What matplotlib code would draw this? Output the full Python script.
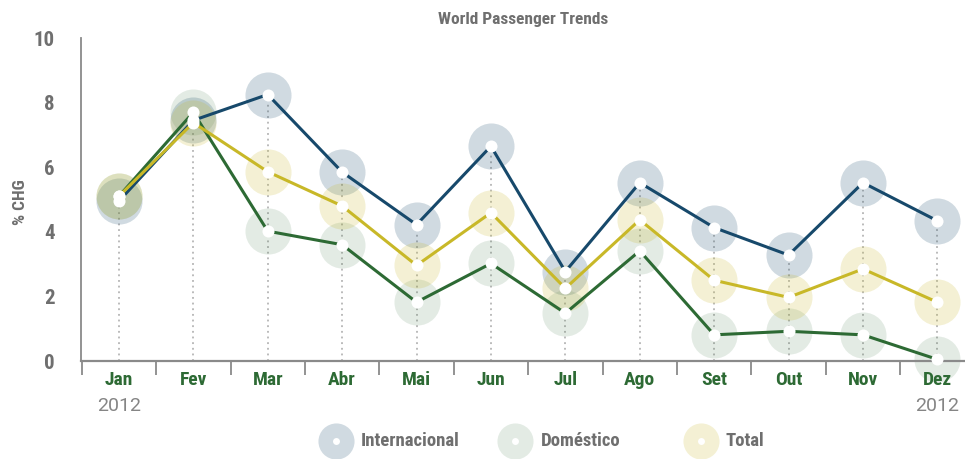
import matplotlib
matplotlib.use("Agg")
import matplotlib.pyplot as plt
from matplotlib.lines import Line2D
import numpy as np

months = ["Jan", "Fev", "Mar", "Abr", "Mai", "Jun", "Jul", "Ago", "Set", "Out", "Nov", "Dez"]
internacional = [4.95, 7.45, 8.25, 5.85, 4.22, 6.65, 2.77, 5.52, 4.13, 3.28, 5.52, 4.34]
domestico = [5.1, 7.7, 4.02, 3.6, 1.82, 3.02, 1.48, 3.41, 0.81, 0.92, 0.81, 0.05]
total = [5.1, 7.38, 5.86, 4.8, 2.96, 4.59, 2.25, 4.37, 2.5, 1.97, 2.85, 1.82]
yticks = [0, 2, 4, 6, 8, 10]

series = [
    ("Internacional", internacional, "#17496b", 0.2),
    ("Doméstico", domestico, "#2d6a34", 0.13),
    ("Total", total, "#c8b828", 0.2),
]

FONT = ["Roboto Condensed", "DejaVu Sans"]
GRAY = "#6f6f6f"

fig = plt.figure(figsize=(9.65, 4.59), dpi=100)
ax = fig.add_axes([0.0839, 0.2135, 0.916, 0.7037])

x = np.arange(len(months))

# dotted drop lines from the highest point of each month
tops = np.max([internacional, domestico, total], axis=0)
ax.vlines(x, 0, tops, colors="#a8a8a8", linestyles=(0, (1.2, 2.5)), linewidth=1.1, zorder=1)

for name, vals, color, a in series:
    ax.scatter(x, vals, s=1100, color=color, alpha=a, linewidths=0, zorder=2, clip_on=False)
for name, vals, color, a in series:
    ax.plot(x, vals, color=color, linewidth=2.2, zorder=3, solid_capstyle="round")
for name, vals, color, a in series:
    ax.scatter(x, vals, s=75, color="white", linewidths=0, zorder=4, clip_on=False)

ax.set_xlim(-0.51, 11.37)
ax.set_ylim(0, 10)

for side in ["top", "right"]:
    ax.spines[side].set_visible(False)
ax.spines["left"].set_color("#8a8a8a")
ax.spines["bottom"].set_color("#8a8a8a")
ax.spines["left"].set_linewidth(1.3)
ax.spines["bottom"].set_linewidth(1.6)

ax.set_yticks(yticks)
ax.set_yticklabels([str(t) for t in yticks], fontsize=15, fontweight="bold",
                   color=GRAY, family=FONT)
ax.tick_params(axis="y", length=0, pad=19)

ax.set_xticks(np.arange(-0.5, 11, 1.0))
ax.set_xticklabels([])
ax.tick_params(axis="x", direction="out", length=10, width=1.3, color="#8a8a8a")

for i, m in enumerate(months):
    ax.text(i, -0.32, m, ha="center", va="top", fontsize=14, fontweight="bold",
            color="#2d6a34", family=FONT)
for i in [0, 11]:
    ax.text(i, -1.1, "2012", ha="center", va="top", fontsize=14, color="#858585",
            family=["Roboto", "DejaVu Sans"], fontweight="normal")

fig.text(0.021, 0.56, "% CHG", rotation=90, ha="center", va="center", fontsize=12.5,
         fontweight="bold", color=GRAY, family=FONT)
fig.text(0.542, 0.958, "World Passenger Trends", ha="center", va="center", fontsize=12.5,
         fontweight="bold", color=GRAY, family=FONT)

# legend
leg_x = [0.348, 0.534, 0.726]
for (name, vals, color, a), lx in zip(series, leg_x):
    fig.add_artist(Line2D([lx], [0.04], marker="o", markersize=26,
                          color=color, alpha=a, markeredgewidth=0))
    fig.add_artist(Line2D([lx], [0.04], marker="o", markersize=5,
                          color="white", markeredgewidth=0))
    fig.text(lx + 0.026, 0.04, name, ha="left", va="center", fontsize=13.5, fontweight="bold",
             color=GRAY, family=FONT)

fig.savefig("out.png", dpi=100, facecolor="white")
